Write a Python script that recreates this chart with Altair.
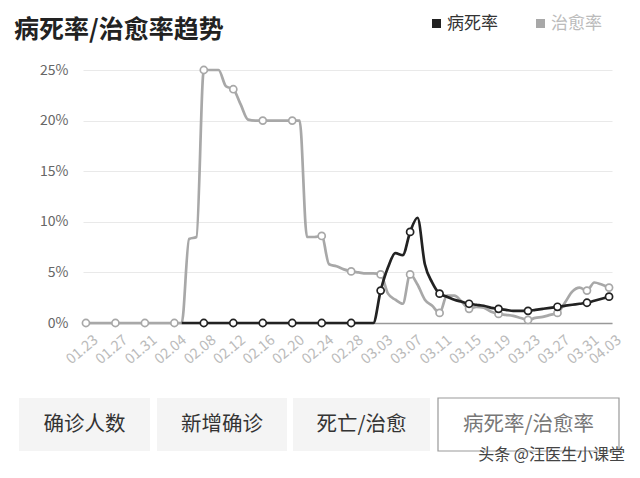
import pandas as pd
import altair as alt

# 数据
日期 = [d.strftime('%m.%d') for d in pd.date_range('2020-01-23', '2020-04-03')]
刻度 = 日期[::4] + ['04.03']

病死率 = [None] * 13 + [0] * 27 + [
    3.2, 5.5, 6.9, 6.7, 9.0, 10.4, 5.8, 4.0, 2.9, 2.6,
    2.3, 2.1, 1.9, 1.8, 1.7, 1.5, 1.4, 1.3, 1.2, 1.2,
    1.2, 1.3, 1.4, 1.5, 1.6, 1.7, 1.8, 1.9, 2.0, 2.2,
    2.4, 2.6]

治愈率 = [0] * 14 + [
    8.3, 8.5, 25, 25, 25, 23.4, 23.1, 21.6, 20.1, 20,
    20, 20, 20, 20, 20, 20, 8.5, 8.5, 8.6, 5.8,
    5.6, 5.3, 5.1, 5.0, 4.9, 4.9,
    4.8, 2.9, 2.3, 1.9, 4.8, 3.8, 2.3, 1.7, 1.0, 2.7,
    2.7, 2.1, 1.4, 1.6, 1.5, 1.1, 0.9, 0.8, 0.7, 0.5,
    0.3, 0.5, 0.6, 0.8, 1.0, 2.0, 3.1, 3.5, 3.2, 4.0,
    3.8, 3.5]

按钮 = ['确诊人数', '新增确诊', '死亡/治愈', '病死率/治愈率']

df = pd.DataFrame({'日期': 日期, '病死率': 病死率, '治愈率': 治愈率})
df['圈'] = df['日期'].isin(刻度)

字体 = 'Noto Sans CJK SC'
黑, 灰 = '#222222', '#a8a8a8'

x = alt.X('日期:O', sort=日期, title=None,
          scale=alt.Scale(type='point', padding=0.4),
          axis=alt.Axis(values=刻度, labelAngle=-40, labelAlign='right',
                        labelBaseline='middle', labelColor='#bbbbbb',
                        labelFontSize=14.5, labelPadding=15, labelOffset=10,
                        ticks=False, grid=False, domainColor='#999999',
                        domainWidth=1.5, labelFont=字体))
y_axis = alt.Axis(values=[0, 5, 10, 15, 20, 25], labelExpr="datum.value + '%'",
                  labelColor='#666666', labelFontSize=14, labelPadding=15,
                  ticks=False, domain=False, gridColor='#e9e9e9', labelFont=字体)


def 曲线(列, 颜色):
    base = alt.Chart(df).encode(x=x)
    line = base.mark_line(color=颜色, strokeWidth=2.7, interpolate='monotone').encode(
        y=alt.Y(f'{列}:Q', title=None, axis=y_axis,
                scale=alt.Scale(domain=[0, 25], nice=False)))
    pts = base.transform_filter('datum.圈').mark_point(
        shape='circle', filled=True, fill='white', stroke=颜色,
        strokeWidth=1.7, size=50, opacity=1).encode(y=f'{列}:Q')
    return line + pts


一行 = pd.DataFrame({'k': [0]})


def 文字(内容, px, py, size, color, weight='normal', align='left'):
    return alt.Chart(一行).mark_text(
        text=内容, align=align, baseline='middle', fontSize=size,
        fontWeight=weight, color=color, font=字体
    ).encode(x=alt.value(px), y=alt.value(py))


def 方块(x0, x1, y0, y1, fill, stroke=None):
    kw = dict(fill=fill)
    if stroke:
        kw.update(stroke=stroke, strokeWidth=1.2)
    return alt.Chart(一行).mark_rect(**kw).encode(
        x=alt.value(x0), x2=alt.value(x1), y=alt.value(y0), y2=alt.value(y1))


装饰 = [
    文字('病死率/治愈率趋势', -69, -40, 25, '#222222', 'bold'),
    方块(349, 358, -51, -42, 黑),
    文字('病死率', 364, -46, 17, '#333333'),
    方块(453, 462, -51, -42, 灰),
    文字('治愈率', 468, -46, 17, '#bbbbbb'),
]

框 = [(-64, 67), (74, 204), (210, 347), (355, 536)]
for i, (名, (a, b)) in enumerate(zip(按钮, 框)):
    最后 = i == len(按钮) - 1
    装饰.append(方块(a, b, 328, 381, 'white' if 最后 else '#f4f4f4',
                    '#999999' if 最后 else None))
    装饰.append(文字(名, (a + b) / 2, 355, 20.5, '#777777' if 最后 else '#333333',
                    align='center'))

装饰.append(文字('头条 @汪医生小课堂', 542, 385, 16, '#444444', align='right'))

chart = alt.layer(
    曲线('治愈率', 灰), 曲线('病死率', 黑), *装饰
).properties(
    width=529, height=253,
    padding={'left': 75, 'top': 62, 'right': 20, 'bottom': 147},
    autosize=alt.AutoSizeParams(type='none'),
).configure_view(stroke=None)

chart.save("out.html", embed_options={"renderer": "svg", "actions": False})
